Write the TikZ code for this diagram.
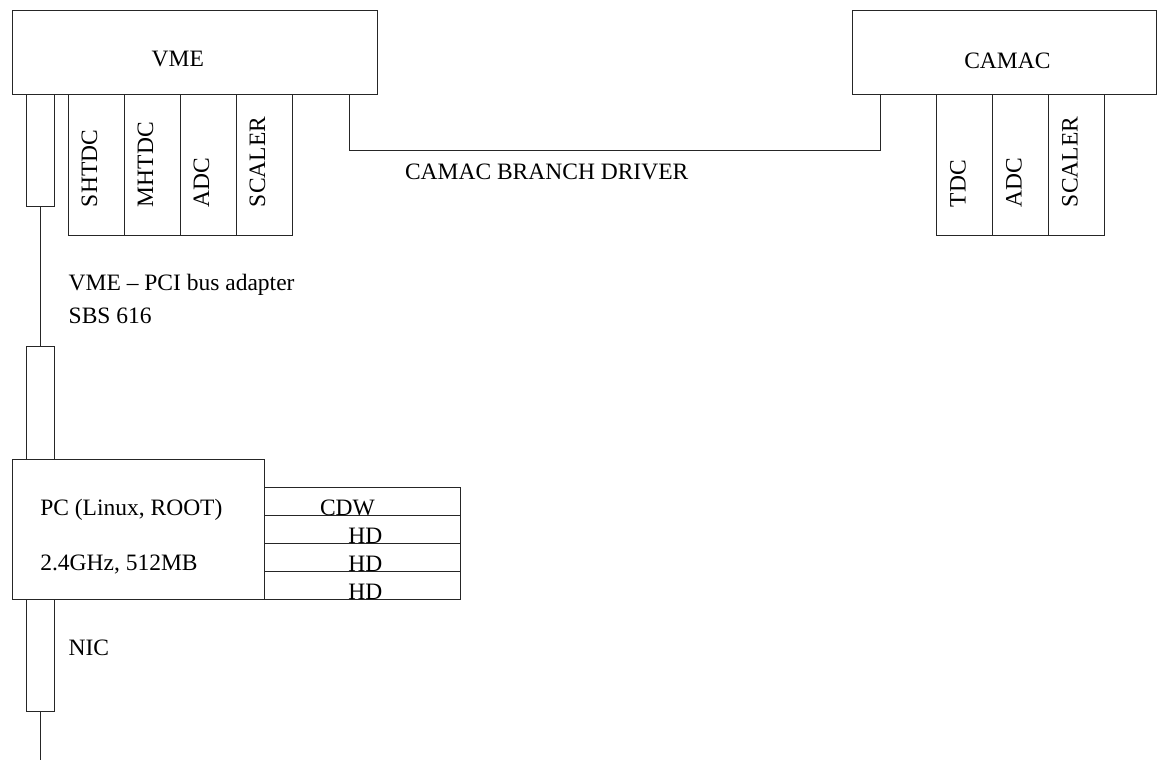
\documentclass[tikz,border=0pt]{standalone}
\usepackage{fontspec}
\setmainfont{Liberation Serif}
\begin{document}
\begin{tikzpicture}[x=1pt,y=-1pt,
  box/.style={draw=black!85, line width=0.9pt, rectangle, inner sep=0pt, outer sep=0pt, anchor=north west},
  modbox/.style={box, minimum width=56pt, minimum height=140.7pt},
  slim/.style={box, minimum width=27.6pt},
  drive/.style={box, minimum width=196pt, minimum height=28pt},
  lbl/.style={inner sep=0pt, outer sep=0pt, anchor=base west, font=\fontsize{23.5}{28}\selectfont},
  vlbl/.style={lbl, rotate=90},
  wire/.style={draw=black!85, line width=0.9pt}]
\useasboundingbox (0,0) rectangle (1160,760);
% crates
\node[box, minimum width=365.4pt, minimum height=83.6pt] (vme) at (12.3,10.7) {};
\node[box, minimum width=304pt, minimum height=83.6pt] (camac) at (852.7,10.7) {};
\node[lbl] (vmet) at (151.7,66.7) {VME};
\node[lbl] (camact) at (964.3,68.3) {CAMAC};
% VME modules
\node[modbox] (m1) at (68.5,94.3) {};
\node[modbox] (m2) at (124.5,94.3) {};
\node[modbox] (m3) at (180.5,94.3) {};
\node[modbox] (m4) at (236.5,94.3) {};
\node[vlbl] (m1t) at (97,207) {SHTDC};
\node[vlbl] (m2t) at (153,207) {MHTDC};
\node[vlbl] (m3t) at (209,207) {ADC};
\node[vlbl] (m4t) at (265,207) {SCALER};
% CAMAC modules
\node[modbox] (c1) at (936.7,94.3) {};
\node[modbox] (c2) at (992.7,94.3) {};
\node[modbox] (c3) at (1048.7,94.3) {};
\node[vlbl] (c1t) at (965.5,207) {TDC};
\node[vlbl] (c2t) at (1021.5,207) {ADC};
\node[vlbl] (c3t) at (1077.5,207) {SCALER};
% branch driver
\coordinate (bd1) at (349,94.3);
\coordinate (bd2) at (880.3,94.3);
\draw[wire] (bd1) -- ++(0,56.4) -| (bd2);
\node[lbl] (bdt) at (405,179.3) {CAMAC BRANCH DRIVER};
% bus adapter
\node[slim, minimum height=112.4pt] (adp1) at (26.7,94.3) {};
\node[slim, minimum height=112.3pt] (adp2) at (26.7,346.7) {};
\draw[wire] (adp1.south) -- (adp2.north);
\node[lbl] (adpt) at (68.7,290.7) {VME \textendash\ PCI bus adapter};
\node[lbl] (sbst) at (68.7,323.3) {SBS 616};
% PC
\node[box, minimum width=252.4pt, minimum height=140pt] (pc) at (12.3,459) {};
\node[lbl] (pct1) at (40.3,515) {PC (Linux, ROOT)};
\node[lbl] (pct2) at (40.3,570) {2.4GHz, 512MB};
\node[drive] (d1) at (264.7,487) {};
\node[drive] (d2) at (264.7,515) {};
\node[drive] (d3) at (264.7,543) {};
\node[drive] (d4) at (264.7,571) {};
\node[lbl] (d1t) at (320,515) {CDW};
\node[lbl] (d2t) at (348.3,543) {HD};
\node[lbl] (d3t) at (348.3,571) {HD};
\node[lbl] (d4t) at (348.3,599) {HD};
% NIC
\node[slim, minimum height=112pt] (nic) at (26.7,599) {};
\node[lbl] (nict) at (68.7,655) {NIC};
\coordinate (netend) at (40.5,760);
\draw[wire] (nic.south) -- (netend);
\end{tikzpicture}
\end{document}
